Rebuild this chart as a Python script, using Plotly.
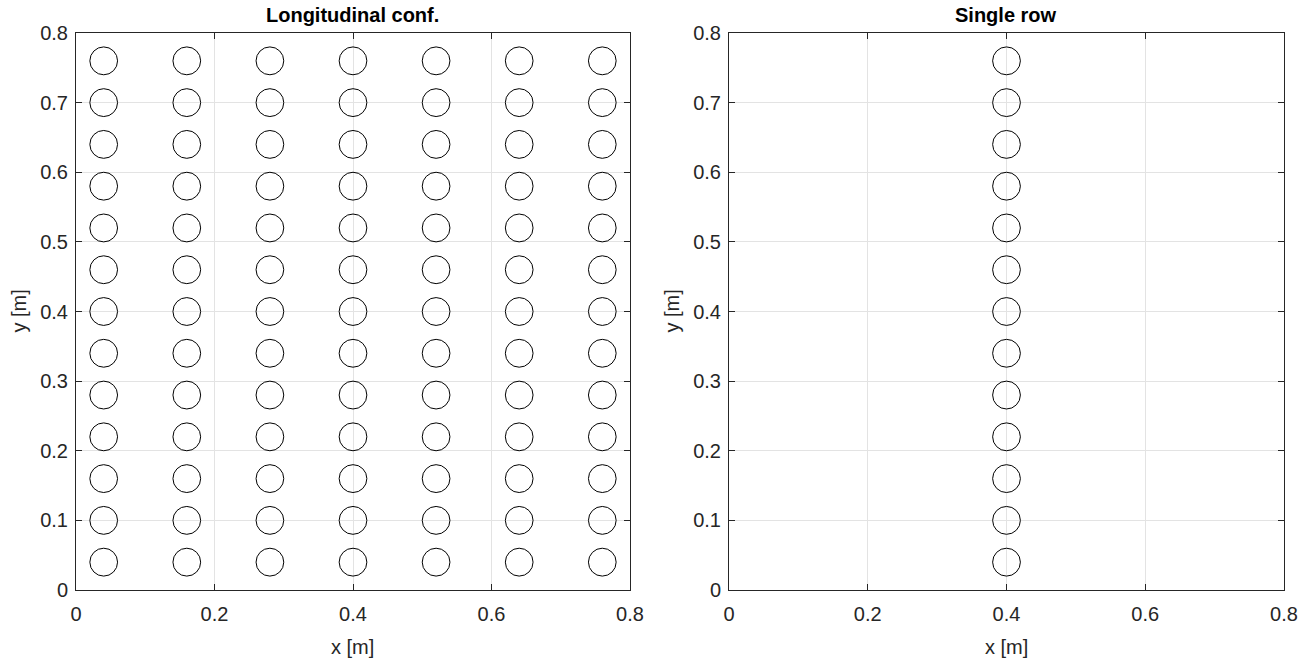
import plotly.graph_objects as go

# Data
grid_x = [0.04, 0.16, 0.28, 0.40, 0.52, 0.64, 0.76]
grid_y = [0.04, 0.10, 0.16, 0.22, 0.28, 0.34, 0.40, 0.46, 0.52, 0.58, 0.64, 0.70, 0.76]
row_x = [0.40]
row_y = grid_y
radius = 0.02
y_tick_vals = [0, 0.1, 0.2, 0.3, 0.4, 0.5, 0.6, 0.7, 0.8]
y_tick_text = ["0", "0.1", "0.2", "0.3", "0.4", "0.5", "0.6", "0.7", "0.8"]
x_tick_vals = [0, 0.2, 0.4, 0.6, 0.8]
x_tick_text = ["0", "0.2", "0.4", "0.6", "0.8"]
titles = ["Longitudinal conf.", "Single row"]
x_label = "x [m]"
y_label = "y [m]"

W, H = 1309, 664
OFF = 0  # body margin removed via post_script
fig = go.Figure()

shapes = []
for ax, (xs, ys) in zip(["", "2"], [(grid_x, grid_y), (row_x, row_y)]):
    for xc in xs:
        for yc in ys:
            shapes.append(dict(type="circle", xref="x" + ax, yref="y" + ax,
                               x0=xc - radius, x1=xc + radius,
                               y0=yc - radius, y1=yc + radius,
                               line=dict(color="black", width=1)))
    fig.add_trace(go.Scatter(x=[None], y=[None], xaxis="x" + ax, yaxis="y" + ax,
                             showlegend=False, hoverinfo="skip"))

FAM = "Liberation Sans, Arial, Helvetica, sans-serif"
font = dict(family=FAM, size=20, color="#262626")
axis_common = dict(showline=True, linecolor="#262626", linewidth=1, mirror="ticks",
                   ticks="inside", ticklen=6, tickcolor="#262626", tickwidth=1,
                   showgrid=True, gridcolor="#e3e3e3", gridwidth=1,
                   zeroline=False, range=[0, 0.8], tickfont=font, automargin=False,
                   fixedrange=True)


def px_x(p):
    return (p - OFF) / W


def px_y(p):
    return 1 - (p - OFF) / H


ydom = [px_y(590), px_y(33)]
xdom1 = [px_x(76), px_x(630)]
xdom2 = [px_x(729), px_x(1284)]

fig.update_layout(
    template="none",
    width=W, height=H,
    margin=dict(l=0, r=0, t=0, b=0, pad=0),
    paper_bgcolor="white", plot_bgcolor="white",
    font=font,
    showlegend=False,
    shapes=shapes,
    xaxis=dict(domain=xdom1, anchor="y", tickvals=x_tick_vals, ticktext=x_tick_text,
               ticklabelstandoff=6, **axis_common),
    yaxis=dict(domain=ydom, anchor="x", tickvals=y_tick_vals, ticktext=y_tick_text,
               ticklabelstandoff=3, **axis_common),
    xaxis2=dict(domain=xdom2, anchor="y2", tickvals=x_tick_vals, ticktext=x_tick_text,
                ticklabelstandoff=6, **axis_common),
    yaxis2=dict(domain=ydom, anchor="x2", tickvals=y_tick_vals, ticktext=y_tick_text,
                ticklabelstandoff=3, **axis_common),
)

annotations = []
for xd, t, ylx in zip([xdom1, xdom2], titles, [19, 672]):
    xc = (xd[0] + xd[1]) / 2
    annotations.append(dict(text="<b>" + t + "</b>", x=xc, y=px_y(15), xref="paper", yref="paper",
                            showarrow=False, font=dict(family=FAM, size=20, color="black"),
                            xanchor="center", yanchor="middle"))
    annotations.append(dict(text=x_label, x=xc, y=px_y(647), xref="paper", yref="paper",
                            showarrow=False, font=font, xanchor="center", yanchor="middle"))
    annotations.append(dict(text=y_label, x=px_x(ylx), y=(ydom[0] + ydom[1]) / 2,
                            xref="paper", yref="paper", textangle=-90,
                            showarrow=False, font=font, xanchor="center", yanchor="middle"))
fig.update_layout(annotations=annotations)

fig.write_html("out.html",
               config={"displayModeBar": False, "staticPlot": True},
               post_script="document.body.style.margin='0';document.body.style.overflow='hidden';")
